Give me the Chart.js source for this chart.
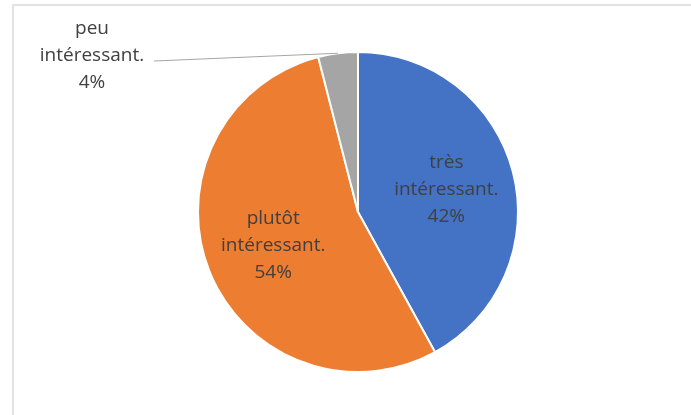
<!DOCTYPE html>
<html>
<head>
<meta charset="utf-8">
<script src="https://cdn.jsdelivr.net/npm/chart.js@4/dist/chart.umd.min.js"></script>
<style>
  html, body { margin: 0; padding: 0; background: #fff; }
  #wrap { width: 691px; height: 415px; }
</style>
</head>
<body>
<div id="wrap"><canvas id="myChart" width="691" height="415"></canvas></div>
<script>
const categories = ['très intéressant.', 'plutôt intéressant.', 'peu intéressant.'];
const values = [42, 54, 4];
const colors = ['#4472C4', '#ED7D31', '#A5A5A5'];

const labelFont = '19px "Open Sans"';
const textColor = '#404040';

// frame + labels, drawn after the pie
const labelPlugin = {
    id: 'sliceLabels',
    beforeDraw(chart) {
        const c = chart.ctx;
        c.save();
        c.strokeStyle = '#d9d9d9';
        c.lineWidth = 1.5;
        c.beginPath();
        c.moveTo(13, 415);
        c.lineTo(13, 5);
        c.lineTo(691, 5);
        c.stroke();
        c.restore();
    },
    afterDatasetsDraw(chart) {
        const c = chart.ctx;
        const meta = chart.getDatasetMeta(0);
        c.save();
        c.font = labelFont;
        c.fillStyle = textColor;
        c.textAlign = 'center';
        c.textBaseline = 'middle';
        const lineH = 27;
        meta.data.forEach((arc, i) => {
            const mid = (arc.startAngle + arc.endAngle) / 2;
            const words = categories[i].split(' ');
            const lines = [words[0], words.slice(1).join(' '), values[i] + '%'];
            let x, y;
            if (values[i] > 10) {
                const d = arc.outerRadius * 0.57;
                x = arc.x + Math.cos(mid) * d;
                y = arc.y + Math.sin(mid) * d;
            } else {
                // outside label with leader line
                const ex = arc.x + Math.cos(mid) * arc.outerRadius;
                const ey = arc.y + Math.sin(mid) * arc.outerRadius;
                x = 92;
                y = 56;
                c.strokeStyle = '#a6a6a6';
                c.lineWidth = 1;
                c.beginPath();
                c.moveTo(154, y + 5);
                c.lineTo(ex, ey);
                c.stroke();
            }
            lines.forEach((t, k) => {
                c.fillText(t, x, y + (k - 1) * lineH);
            });
        });
        c.restore();
    }
};

const ctx = document.getElementById('myChart').getContext('2d');
const myChart = new Chart(ctx, {
    type: 'pie',
    data: {
        labels: categories,
        datasets: [{
            data: values,
            backgroundColor: colors,
            borderColor: '#ffffff',
            borderWidth: 2
        }]
    },
    options: {
        responsive: false,
        animation: false,
        layout: { padding: { top: 51, bottom: 42, left: 100, right: 75 } },
        plugins: {
            legend: { display: false },
            tooltip: { enabled: false }
        }
    },
    plugins: [labelPlugin]
});
</script>
</body>
</html>
